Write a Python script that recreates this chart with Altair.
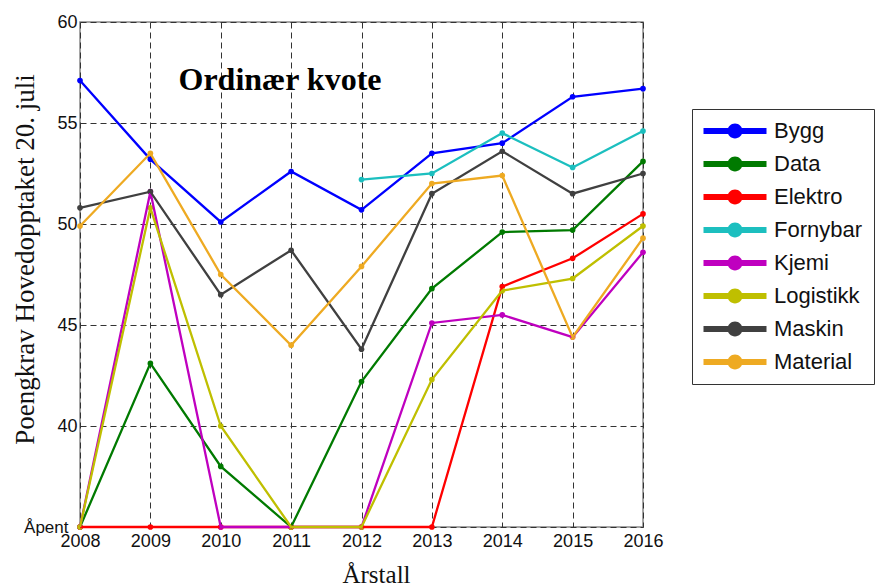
import altair as alt
import pandas as pd

years = [2008, 2009, 2010, 2011, 2012, 2013, 2014, 2015, 2016]
series = ["Bygg", "Data", "Elektro", "Fornybar", "Kjemi", "Logistikk", "Maskin", "Material"]
colors = ["#0000ff", "#007a00", "#ff0000", "#1cbfbf", "#bf00bf", "#bfbf00", "#404040", "#eeaa22"]

# 35 = "Åpent"
bygg = [57.1, 53.2, 50.1, 52.6, 50.7, 53.5, 54.0, 56.3, 56.7]
data = [35, 43.1, 38.0, 35, 42.2, 46.8, 49.6, 49.7, 53.1]
elektro = [35, 35, 35, 35, 35, 35, 46.9, 48.3, 50.5]
fornybar = [None, None, None, None, 52.2, 52.5, 54.5, 52.8, 54.6]
kjemi = [35, 51.6, 35, 35, 35, 45.1, 45.5, 44.4, 48.6]
logistikk = [35, 50.8, 40.0, 35, 35, 42.3, 46.7, 47.3, 49.9]
maskin = [50.8, 51.6, 46.5, 48.7, 43.8, 51.5, 53.6, 51.5, 52.5]
material = [49.9, 53.5, 47.5, 44.0, 47.9, 52.0, 52.4, 44.4, 49.3]

y_ticks = [35, 40, 45, 50, 55, 60]

rows = []
for name, vals in zip(series, [bygg, data, elektro, fornybar, kjemi, logistikk, maskin, material]):
    for yr, v in zip(years, vals):
        if v is not None:
            rows.append({"year": yr, "fag": name, "poeng": v})
df = pd.DataFrame(rows)

# wide legend glyph: thick line with a dot, unit = sqrt(size)/2 px
sym_path = ("M-3,-0.28 H3 V0.28 H-3 Z "
            "M-0.71,0 A0.71,0.71 0 1,1 0.71,0 A0.71,0.71 0 1,1 -0.71,0 Z")

x_enc = alt.X("year:Q",
              scale=alt.Scale(domain=[2008, 2016], nice=False, zero=False),
              axis=alt.Axis(values=years, format="d", title="Årstall",
                            labelFont="Liberation Sans", labelFontSize=18, labelColor="#111",
                            labelPadding=5, labelFlush=False,
                            titleFont="Liberation Serif", titleFontSize=25,
                            titleFontWeight="normal", titleColor="#111",
                            titleX=296, titleY=55, titleBaseline="alphabetic"))
y_enc = alt.Y("poeng:Q",
              scale=alt.Scale(domain=[35, 60], nice=False, zero=False),
              axis=alt.Axis(values=y_ticks, title="Poengkrav Hovedopptaket 20. juli",
                            labelExpr="datum.value == 35 ? 'Åpent' : datum.label",
                            labelFontSize={"condition": {"test": "datum.value == 35", "value": 17}, "value": 18},
                            labelPadding={"condition": {"test": "datum.value == 35", "value": 12}, "value": 3},
                            labelFont="Liberation Sans", labelColor="#111",
                            labelFlush=False,
                            titleFont="Liberation Serif", titleFontSize=27, titleFontWeight="normal",
                            titleColor="#111", titleX=-47, titleY=237, titleBaseline="alphabetic"))
cscale = alt.Scale(domain=series, range=colors)
leg = alt.Legend(title=None, orient="none", legendX=612, legendY=87,
                 symbolType=sym_path, symbolSize=441, symbolStrokeWidth=0,
                 symbolOffset=21, labelOffset=28,
                 labelFont="Liberation Sans", labelFontSize=22, labelColor="#111",
                 labelLimit=200, strokeColor="#333",
                 fillColor="white", padding=11, rowPadding=11,
                 symbolOpacity=1)

points = alt.Chart(df).mark_circle(size=32, opacity=1).encode(
    x=x_enc, y=y_enc,
    color=alt.Color("fag:N", scale=cscale, legend=leg),
)

lines = alt.Chart(df).mark_line(strokeWidth=2.3).encode(
    x=x_enc, y=y_enc,
    color=alt.Color("fag:N", scale=cscale, legend=leg),
    order=alt.Order("year:Q"),
)

title = alt.Chart(pd.DataFrame({"t": ["Ordinær kvote"]})).mark_text(
    font="Liberation Serif", fontWeight="bold", fontSize=32, align="center",
    baseline="alphabetic", color="#000"
).encode(text="t:N", x=alt.value(200), y=alt.value(68))

chart = alt.layer(points, lines, title).properties(
    width=563, height=505,
    autosize=alt.AutoSizeParams(type="none"),
    padding={"left": 72, "top": 14, "right": 234, "bottom": 60},
).configure_axis(
    grid=True, gridDash=[6, 4], gridColor="#333", gridOpacity=1, gridWidth=1,
    domain=False, ticks=False,
).configure_view(stroke="#888", strokeWidth=1.5)

chart.save("out.html", embed_options={"renderer": "svg", "actions": False})
